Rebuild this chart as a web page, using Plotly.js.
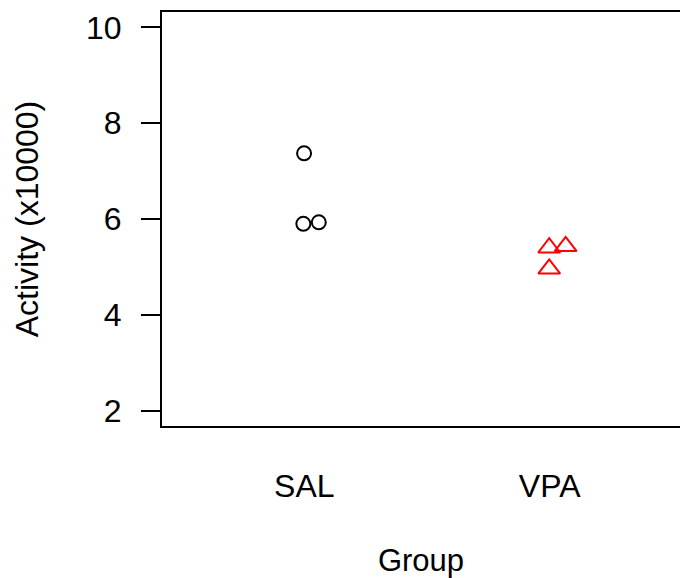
<!DOCTYPE html>
<html>
<head>
<meta charset="utf-8">
<script src="https://cdn.plot.ly/plotly-3.0.1.min.js"></script>
<style>html,body{margin:0;padding:0;background:#fff;}#chart{width:680px;height:578px;}</style>
</head>
<body>
<div id="chart"></div>
<script>
// Data
const groups = ["SAL", "VPA"];
const groupPos = [1, 2];
const salX = [0.999, 0.996, 1.059];
const salY = [7.37, 5.90, 5.93];
const vpaX = [1.998, 2.065, 1.998];
const vpaY = [5.40, 5.43, 4.96];
const yTicks = [2, 4, 6, 8, 10];

const font = "Liberation Sans, Arial, Helvetica, sans-serif";
const fs = 32;

const traces = [
  {
    x: salX, y: salY, type: "scatter", mode: "markers", name: "SAL",
    marker: {symbol: "circle-open", size: 14, color: "#000000", line: {color: "#000000", width: 2}},
    cliponaxis: false, hoverinfo: "skip"
  },
  {
    x: vpaX, y: vpaY, type: "scatter", mode: "markers", name: "VPA",
    marker: {symbol: "triangle-up-open", size: 19, color: "#ff0000", line: {color: "#ff0000", width: 2}},
    cliponaxis: false, hoverinfo: "skip"
  }
];

const layout = {
  width: 680, height: 578,
  margin: {l: 162, r: 0, t: 12, b: 152, pad: 0},
  paper_bgcolor: "#ffffff", plot_bgcolor: "#ffffff",
  showlegend: false,
  font: {family: font, size: fs, color: "#000000"},
  xaxis: {
    range: [0.42, 2.531],
    tickvals: groupPos, ticktext: groups,
    ticks: "", showgrid: false, zeroline: false,
    showline: true, mirror: true, linecolor: "#000000", linewidth: 2,
    ticklabelstandoff: 31,
    tickfont: {family: font, size: fs, color: "#000000"},
    title: {text: "Group", font: {family: font, size: 31, color: "#000000"}, standoff: 48}
  },
  yaxis: {
    range: [1.68, 10.32],
    tickvals: yTicks, ticktext: yTicks.map(String),
    ticks: "outside", ticklen: 19, tickwidth: 2, tickcolor: "#000000",
    showgrid: false, zeroline: false,
    showline: true, mirror: false, linecolor: "#000000", linewidth: 2,
    ticklabelstandoff: 13,
    tickfont: {family: font, size: fs, color: "#000000"},
    title: {text: "Activity (x10000)", font: {family: font, size: fs, color: "#000000"}, standoff: 38}
  }
};

Plotly.newPlot("chart", traces, layout, {displayModeBar: false, staticPlot: true});
</script>
</body>
</html>
